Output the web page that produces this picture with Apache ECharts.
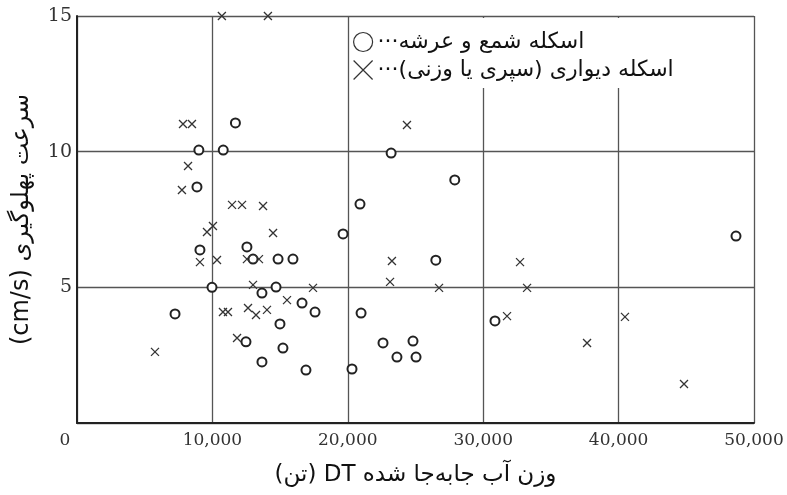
<!DOCTYPE html>
<html>
<head>
<meta charset="utf-8">
<script src="https://cdn.jsdelivr.net/npm/echarts@6/dist/echarts.min.js"></script>
<style>html,body{margin:0;padding:0;background:#fff}#c{width:787px;height:495px}</style>
</head>
<body>
<div id="c"></div>
<script>
// Data (x: displacement DT in tonnes, y: berthing velocity cm/s)
const xTicks = [0, 10000, 20000, 30000, 40000, 50000];
const yTicks = [0, 5, 10, 15];
const pileDeckName = "···\u202Bاسکله شمع و عرشه\u202C";
const wallName = "···\u202Bاسکله دیواری (سپری یا وزنی)\u202C";
const xAxisTitle = "\u202Bوزن آب جابه‌جا شده DT (تن)\u202C";
const yAxisTitle = "\u202Bسرعت پهلوگیری (cm/s)\u202C";

const pileDeckX = [9000, 10800, 11700, 23200, 20900, 27900, 8860, 19650, 9080, 12550, 13000, 14850, 15950, 26500, 9970, 13660, 14700, 7240, 16620, 17580, 20980, 14990, 12480, 15210, 13660, 16910, 20310, 22600, 24815, 23630, 25040, 30870, 48670];
const pileDeckY = [10.06, 10.06, 11.06, 9.95, 8.07, 8.96, 8.70, 6.97, 6.38, 6.49, 6.04, 6.04, 6.04, 6.0, 5.0, 4.79, 5.01, 4.02, 4.42, 4.09, 4.05, 3.65, 2.99, 2.76, 2.25, 1.95, 1.99, 2.95, 3.02, 2.43, 2.43, 3.76, 6.89];

const wallX = [10700, 14100, 7830, 8490, 24370, 8200, 7750, 11450, 12190, 13740, 9600, 10040, 14480, 9080, 10340, 12550, 13440, 13000, 10780, 11150, 12630, 13220, 14030, 11820, 5760, 17430, 15510, 23260, 23120, 26740, 32720, 33240, 31760, 40470, 37670, 44830];
const wallY = [15, 15, 11.02, 11.02, 10.98, 9.47, 8.59, 8.04, 8.04, 8.0, 7.04, 7.26, 7.0, 5.93, 6.01, 6.04, 6.04, 5.09, 4.09, 4.09, 4.24, 3.98, 4.17, 3.13, 2.62, 4.98, 4.53, 5.97, 5.2, 4.98, 5.93, 4.98, 3.94, 3.91, 2.95, 1.44];

const pair = (xs, ys) => xs.map((x, i) => [x, ys[i]]);
const crossPath = 'path://M0,0L10,10M10,0L0,10';
const numFont = '"DejaVu Serif", "Liberation Serif", serif';
const faFont = '"DejaVu Sans", "Noto Sans", sans-serif';

const chart = echarts.init(document.getElementById('c'), null, {renderer: 'canvas'});
chart.setOption({
  animation: false,
  backgroundColor: '#fff',
  grid: {left: 77, right: 33, top: 16, bottom: 72, containLabel: false},
  graphic: [{
    type: 'rect', z: 5,
    shape: {x: 354, y: 18, width: 398, height: 70},
    style: {fill: '#fff'}
  }],
  legend: {
    z: 10,
    orient: 'vertical',
    left: 348, top: 26,
    itemWidth: 19, itemHeight: 19, itemGap: 6,
    textStyle: {fontFamily: faFont, fontSize: 22, color: '#111', lineHeight: 22},
    data: [
      {name: pileDeckName, itemStyle: {borderWidth: 1.2, color: '#fff', borderColor: '#333'}},
      {name: wallName, itemStyle: {borderWidth: 1.2, borderColor: '#333'}}
    ]
  },
  xAxis: {
    type: 'value', min: 0, max: 50000, interval: 10000,
    name: xAxisTitle, nameLocation: 'middle', nameGap: 41,
    nameTextStyle: {fontFamily: faFont, fontSize: 23, color: '#111'},
    axisLine: {show: true, onZero: false, lineStyle: {color: '#222', width: 2}},
    axisTick: {show: false},
    axisLabel: {
      margin: 9,
      fontFamily: numFont, fontSize: 17, color: '#333',
      formatter: v => v === 0 ? '{z|0}' : v.toLocaleString('en-US'),
      rich: {z: {fontFamily: numFont, fontSize: 17, color: '#333', padding: [0, 24, 0, 0]}}
    },
    splitLine: {show: true, lineStyle: {color: '#555', width: 1.3}}
  },
  yAxis: {
    type: 'value', min: 0, max: 15, interval: 5,
    name: yAxisTitle, nameLocation: 'middle', nameGap: 43, nameRotate: 90,
    nameTextStyle: {fontFamily: faFont, fontSize: 24, color: '#111'},
    axisLine: {show: true, onZero: false, lineStyle: {color: '#222', width: 2}},
    axisTick: {show: false},
    axisLabel: {
      margin: 5, showMinLabel: false,
      fontFamily: numFont, fontSize: 19, color: '#333',
      formatter: v => String(v)
    },
    splitLine: {show: true, lineStyle: {color: '#555', width: 1.3}}
  },
  series: [
    {
      name: pileDeckName, type: 'scatter', symbol: 'circle', symbolSize: 9,
      itemStyle: {color: '#fff', borderColor: '#222', borderWidth: 2, opacity: 1},
      data: pair(pileDeckX, pileDeckY)
    },
    {
      name: wallName, type: 'scatter', symbol: crossPath, symbolSize: 8,
      itemStyle: {color: 'transparent', borderColor: '#333', borderWidth: 1.3, opacity: 1},
      data: pair(wallX, wallY)
    }
  ]
});
</script>
</body>
</html>
